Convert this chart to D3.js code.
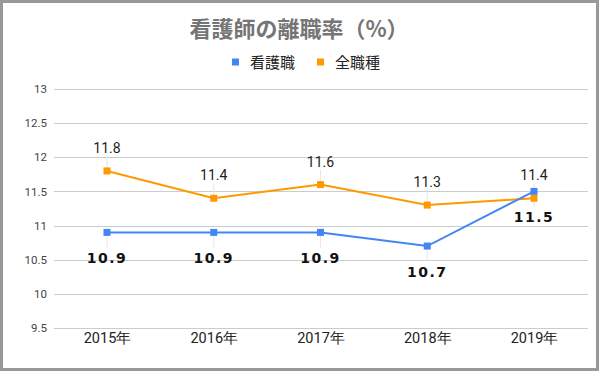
<!DOCTYPE html>
<html>
<head>
<meta charset="utf-8">
<script src="https://cdn.jsdelivr.net/npm/d3@7"></script>
<style>
  html, body { margin: 0; padding: 0; background: #fff; }
  svg { display: block; font-family: "Noto Sans CJK JP", Roboto, Arial, sans-serif; }
</style>
</head>
<body>
<svg id="chart" width="600" height="372"></svg>
<script>
// data
var years = ["2015年", "2016年", "2017年", "2018年", "2019年"];
var nurse = [10.9, 10.9, 10.9, 10.7, 11.5];
var allJobs = [11.8, 11.4, 11.6, 11.3, 11.4];
var yTicks = [9.5, 10, 10.5, 11, 11.5, 12, 12.5, 13];
var seriesNames = ["看護職", "全職種"];
var seriesColors = ["#4285f4", "#ff9900"];

var W = 600, H = 372;
var svg = d3.select("#chart");

// frame
svg.append("rect")
	.attr("x", 1.5).attr("y", 1.5)
	.attr("width", W - 4).attr("height", H - 4)
	.attr("fill", "#fff")
	.attr("stroke", "#999").attr("stroke-width", 3);

var x = d3.scalePoint().domain(years).range([107, 534]);
var y = d3.scaleLinear().domain([9.5, 13]).range([328, 89]);

// title
svg.append("text")
	.attr("x", 299).attr("y", 37)
	.attr("text-anchor", "middle")
	.attr("font-size", 22).attr("font-weight", "bold")
	.attr("fill", "#757575")
	.text("看護師の離職率（%）");

// legend
var legendX = [232, 317];
seriesNames.forEach(function(name, i) {
	var g = svg.append("g").attr("transform", "translate(" + legendX[i] + ",62)");
	g.append("rect").attr("x", 0).attr("y", -3.5).attr("width", 7).attr("height", 7)
		.attr("fill", seriesColors[i]);
	g.append("text").attr("x", 18).attr("y", 5.5)
		.attr("font-size", 15).attr("fill", "#222")
		.text(name);
});

// grid + y axis
var yAxis = d3.axisLeft(y).tickValues(yTicks).tickSize(-(588 - 54)).tickPadding(7)
	.tickFormat(d3.format(""));
var gy = svg.append("g").attr("transform", "translate(54,0)").call(yAxis);
gy.select(".domain").remove();
gy.selectAll(".tick line").attr("stroke", "#cccccc").attr("shape-rendering", "crispEdges");
gy.selectAll(".tick text").attr("font-size", 11.5).attr("fill", "#444")
	.attr("font-family", "Roboto, Arial, sans-serif");

// x axis labels
var xAxis = d3.axisBottom(x).tickSize(0).tickPadding(0);
var gx = svg.append("g").attr("transform", "translate(0,333)").call(xAxis);
gx.select(".domain").remove();
gx.selectAll(".tick text").attr("font-size", 14.5).attr("fill", "#222")
	.attr("font-family", "Roboto, Arial, sans-serif");

var line = d3.line().x(function(d, i) { return x(years[i]); }).y(function(d) { return y(d); });

// leader lines
function leaders(values, dir) {
	svg.append("g").selectAll("line").data(values).enter().append("line")
		.attr("x1", function(d, i) { return x(years[i]); })
		.attr("x2", function(d, i) { return x(years[i]); })
		.attr("y1", function(d) { return y(d); })
		.attr("y2", function(d) { return y(d) + dir * 15; })
		.attr("stroke", "#e6e6e6").attr("stroke-width", 1);
}
leaders(allJobs, -1);
leaders(nurse, 1);

[allJobs, nurse].forEach(function(vals, k) {
	var col = k === 0 ? seriesColors[1] : seriesColors[0];
	svg.append("path").datum(vals)
		.attr("d", line).attr("fill", "none")
		.attr("stroke", col).attr("stroke-width", 2);
});
[nurse, allJobs].forEach(function(vals, k) {
	svg.append("g").selectAll("rect").data(vals).enter().append("rect")
		.attr("x", function(d, i) { return x(years[i]) - 3.5; })
		.attr("y", function(d) { return y(d) - 3.5; })
		.attr("width", 7).attr("height", 7)
		.attr("fill", seriesColors[k]);
});

// data labels
svg.append("g").selectAll("text").data(allJobs).enter().append("text")
	.attr("x", function(d, i) { return x(years[i]); })
	.attr("y", function(d) { return y(d) - 18; })
	.attr("text-anchor", "middle")
	.attr("font-size", 14).attr("fill", "#222")
	.attr("font-family", "Roboto, Arial, sans-serif")
	.text(function(d) { return d3.format(".1f")(d); });

svg.append("g").selectAll("text").data(nurse).enter().append("text")
	.attr("x", function(d, i) { return x(years[i]); })
	.attr("y", function(d) { return y(d) + 31; })
	.attr("text-anchor", "middle")
	.attr("font-size", 14).attr("font-weight", "bold").attr("fill", "#111")
	.attr("letter-spacing", 1.5)
	.attr("font-family", "'DejaVu Sans', sans-serif")
	.text(function(d) { return d3.format(".1f")(d); });
</script>
</body>
</html>
